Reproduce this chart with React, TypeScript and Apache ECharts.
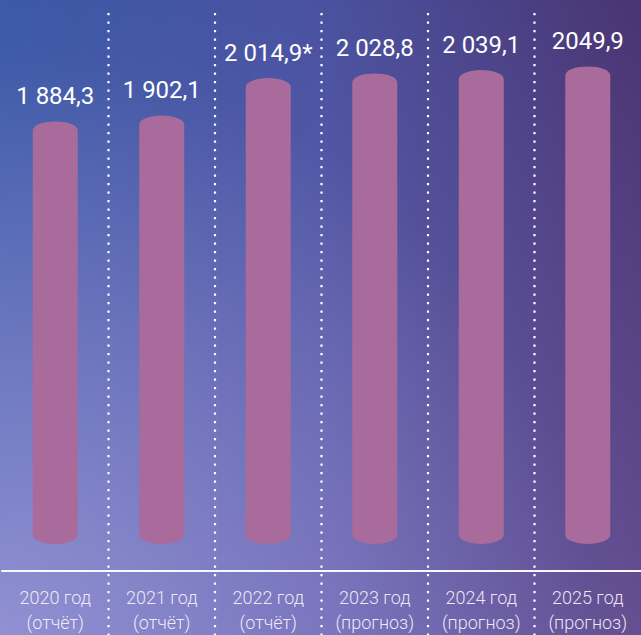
import React, { useEffect, useRef } from "react";
import * as echarts from "echarts";

const years = ["2020 год", "2021 год", "2022 год", "2023 год", "2024 год", "2025 год"];
const notes = ["(отчёт)", "(отчёт)", "(отчёт)", "(прогноз)", "(прогноз)", "(прогноз)"];
const values = [1884.3, 1902.1, 2014.9, 2028.8, 2039.1, 2049.9];
const valueLabels = ["1 884,3", "1 902,1", "2 014,9*", "2 028,8", "2 039,1", "2049,9"];
const Y_MIN = 530;
const Y_MAX = 2250;

const BAR_COLOR = "#A86B9B";

export default function App() {
  const ref = useRef<HTMLDivElement>(null);
  useEffect(() => {
    const el = ref.current!;
    const chart = echarts.init(el, null, { renderer: "svg" });
    const BAR_W = 45;
    const CAP = 9;
    const BASE_GAP = 27;
    const LABEL_GAP = 25;
    const DIV_TOP = 13;
    const option = {
      animation: false,
      backgroundColor: "transparent",
      grid: { left: 2, right: -10, top: 0, bottom: 61 },
      xAxis: {
        type: "category",
        data: years.map((y, i) => `${y}\n${notes[i]}`),
        boundaryGap: true,
        axisLine: { show: true, lineStyle: { color: "rgba(255,255,255,0.95)", width: 2 } },
        axisTick: { show: false },
        splitLine: { show: false },
        axisLabel: {
          margin: 14,
          fontFamily: "Roboto",
          fontWeight: 300,
          fontSize: 18,
          lineHeight: 25,
          color: "rgba(246,240,252,0.95)",
        },
      },
      yAxis: { type: "value", min: Y_MIN, max: Y_MAX, show: false },
      series: [
        {
          type: "custom",
          clip: false,
          data: values.map((v, i) => [i, v]),
          renderItem: (params: any, api: any) => {
            const i = api.value(0);
            const v = api.value(1);
            const top = api.coord([i, v]);
            const base = api.coord([i, Y_MIN]);
            const cx = top[0];
            const x0 = cx - BAR_W / 2;
            const x1 = cx + BAR_W / 2;
            const yTop = top[1];
            const yBot = base[1] - BASE_GAP;
            const rx = BAR_W / 2;
            const d =
              `M${x0} ${yTop + CAP} A${rx} ${CAP} 0 0 1 ${x1} ${yTop + CAP} ` +
              `L${x1} ${yBot - CAP} A${rx} ${CAP} 0 0 1 ${x0} ${yBot - CAP} Z`;
            const children: any[] = [
              { type: "path", shape: { pathData: d }, style: { fill: BAR_COLOR } },
              {
                type: "text",
                x: cx,
                y: yTop - LABEL_GAP,
                style: {
                  text: valueLabels[i],
                  fill: "#ffffff",
                  fontFamily: "Roboto",
                  fontWeight: 400,
                  fontSize: 24,
                  align: "center",
                  verticalAlign: "middle",
                },
              },
            ];
            if (i > 0) {
              const prev = api.coord([i - 1, v]);
              const xm = (prev[0] + cx) / 2;
              children.push({
                type: "line",
                shape: { x1: xm, y1: DIV_TOP, x2: xm, y2: api.getHeight() },
                style: { stroke: "#ffffff", lineWidth: 2.2, lineDash: [2.2, 6.3] },
              });
            }
            return { type: "group", children };
          },
        },
      ],
    };
    chart.setOption(option as any);
    return () => chart.dispose();
  }, []);
  return (
    <div
      ref={ref}
      style={{
        position: "fixed",
        left: 0,
        top: 0,
        width: 641,
        height: 635,
        background:
          "radial-gradient(ellipse at 0% 100%, rgba(220,196,246,0.42), rgba(220,196,246,0) 65%), " +
          "linear-gradient(to bottom, rgba(170,150,225,0) 0%, rgba(170,150,225,0.28) 100%), " +
          "linear-gradient(to right, #3B5AA8 0%, #4A52A0 50%, #4A3472 100%)",
      }}
    />
  );
}
